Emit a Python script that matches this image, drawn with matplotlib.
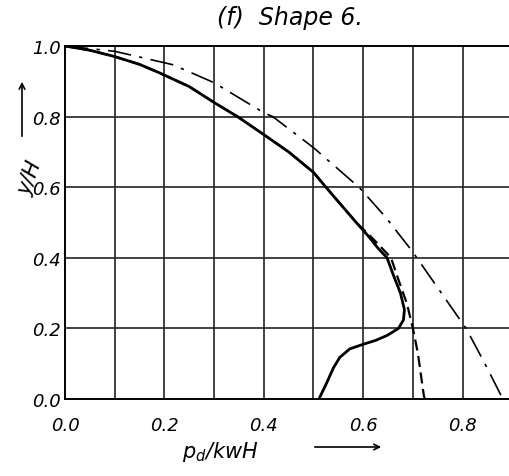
import matplotlib.pyplot as plt
import numpy as np

# solid curve (x = p_d/kwH, y = y/H)
solid_x = [0.0, 0.05, 0.1, 0.15, 0.19, 0.25, 0.3, 0.347, 0.4, 0.45, 0.5, 0.525, 0.586,
           0.61, 0.63, 0.648, 0.661, 0.675, 0.683, 0.681, 0.671, 0.648, 0.625, 0.60,
           0.573, 0.553, 0.540, 0.527, 0.511]
solid_y = [1.0, 0.988, 0.97, 0.948, 0.924, 0.885, 0.84, 0.8, 0.749, 0.70, 0.642, 0.6, 0.50,
           0.462, 0.427, 0.4, 0.35, 0.30, 0.253, 0.224, 0.2, 0.18, 0.166, 0.155,
           0.142, 0.118, 0.088, 0.047, 0.0]

# dashed curve
dash_x = [0.0, 0.05, 0.1, 0.15, 0.19, 0.25, 0.3, 0.347, 0.4, 0.45, 0.5, 0.525, 0.586,
          0.614, 0.638, 0.656, 0.668, 0.688, 0.70, 0.71, 0.716, 0.722, 0.724]
dash_y = [1.0, 0.988, 0.97, 0.948, 0.924, 0.885, 0.84, 0.8, 0.749, 0.70, 0.642, 0.6, 0.50,
          0.462, 0.427, 0.4, 0.35, 0.27, 0.2, 0.13, 0.07, 0.01, 0.0]

# dash-dot curve
dd_x = [0.0, 0.1, 0.217, 0.3, 0.4, 0.418, 0.5, 0.593, 0.644, 0.698, 0.75, 0.807, 0.845, 0.881]
dd_y = [1.0, 0.985, 0.947, 0.896, 0.811, 0.8, 0.712, 0.598, 0.517, 0.42, 0.315, 0.2, 0.1, 0.0]

x_ticks = [0.0, 0.2, 0.4, 0.6, 0.8]
y_ticks = [0.0, 0.2, 0.4, 0.6, 0.8, 1.0]

fig = plt.figure(figsize=(5.1, 4.77), dpi=100)
ax = fig.add_axes([65 / 510, 77 / 477, 445 / 510, 353 / 477])

ax.set_xlim(0, 0.8954)
ax.set_ylim(0, 1.0)

for gx in np.arange(0.1, 0.9, 0.1):
    ax.axvline(gx, color='#222222', lw=1.2, zorder=1)
for gy in [0.2, 0.4, 0.6, 0.8]:
    ax.axhline(gy, color='#222222', lw=1.2, zorder=1)

ax.plot(solid_x, solid_y, color='black', lw=2.0, zorder=3,
        solid_joinstyle='round', solid_capstyle='round')
ax.plot(dash_x, dash_y, color='black', lw=1.6, dashes=(5, 2.5), zorder=3)
ax.plot(dd_x, dd_y, color='black', lw=1.2, dashes=(14, 5, 2, 5), zorder=3)

for s in ['left', 'bottom', 'top']:
    ax.spines[s].set_linewidth(1.4)
ax.spines['right'].set_visible(False)

ax.set_xticks(x_ticks)
ax.set_yticks(y_ticks)
ax.set_xticklabels([f'{v:.1f}' for v in x_ticks], fontsize=13, style='italic')
ax.set_yticklabels([f'{v:.1f}' for v in y_ticks], fontsize=13, style='italic')
ax.tick_params(axis='x', length=0, pad=12)
ax.tick_params(axis='y', length=0, pad=3)

fig.text(290 / 510, 1 - 18 / 477, '(f)  Shape 6.', fontsize=17, style='italic',
         ha='center', va='center')

# y axis label with arrow
fig.text(30 / 510, 1 - 178 / 477, 'y/H', fontsize=15, style='italic', rotation=70,
         ha='center', va='center')
ax.annotate('', xy=(22 / 510, 1 - 80 / 477), xytext=(22 / 510, 1 - 140 / 477),
            xycoords='figure fraction', textcoords='figure fraction',
            arrowprops=dict(arrowstyle='->', color='black', lw=1.2))

# x axis label with arrow
fig.text(220 / 510, 1 - 452 / 477, 'p$_d$/kwH', fontsize=15, style='italic',
         ha='center', va='center')
ax.annotate('', xy=(384 / 510, 1 - 448 / 477), xytext=(312 / 510, 1 - 448 / 477),
            xycoords='figure fraction', textcoords='figure fraction',
            arrowprops=dict(arrowstyle='->', color='black', lw=1.2))

plt.savefig('out.png', dpi=100)
